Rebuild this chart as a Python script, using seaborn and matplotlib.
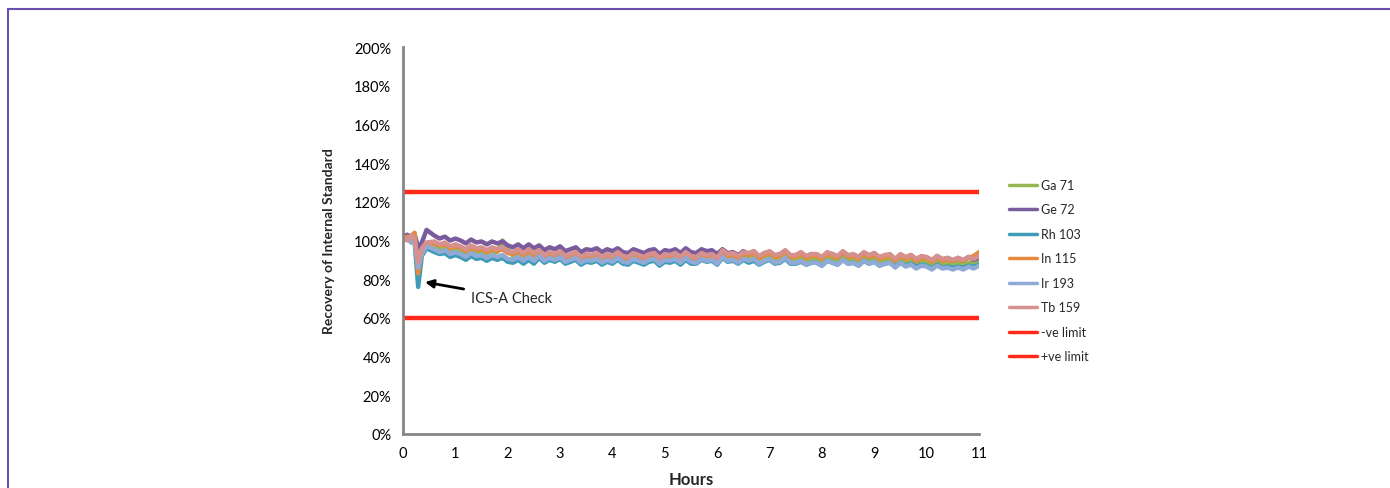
import numpy as np
import pandas as pd
import matplotlib.pyplot as plt
import seaborn as sns
from matplotlib.patches import Rectangle
from matplotlib.ticker import FuncFormatter, MultipleLocator

# sample times (hours): a few early samples, then one every 0.1 h
hours = [0, 0.08, 0.16, 0.22, 0.29, 0.36, 0.45] + list(np.round(np.arange(0.6, 11.01, 0.1), 2))

# recovery of each internal standard (%)
ga71 = [101, 102, 100, 102, 88, 95, 98,
        97.5, 96, 97, 95, 96, 95, 93.5, 95.5, 94, 94.5,
        93, 94.5, 94, 100, 96, 92, 93.5, 91.5, 93.5, 91.5,
        93, 90.5, 92, 91, 92.5, 90, 91, 92, 89.5, 91,
        90.5, 91.5, 89.5, 91, 90, 92, 90, 89.5, 91.5, 90.5,
        89.5, 91, 91.5, 89, 91, 90.5, 91.5, 89.5, 92, 90,
        89.5, 91.5, 90.5, 91, 89, 92.5, 90.5, 91, 89.5, 91.5,
        90.5, 91.5, 89, 90.5, 91.5, 89.5, 90, 92, 89.5, 89.5,
        91, 89, 90, 90, 88.5, 91, 90, 89, 91.5, 89.5,
        90.5, 89, 91.5, 90, 91, 89, 90, 90.5, 88, 90.5,
        89, 90, 88, 89.5, 89, 87.5, 89.5, 88, 88.5, 88,
        88.5, 87.5, 88.5, 88, 89]
ge72 = [102, 103, 101, 103.5, 96, 99, 105.5,
        102.5, 101, 102, 100, 101, 100, 98.5, 100.5, 99, 99.5,
        98, 99.5, 98.5, 99.5, 97.5, 96.5, 98, 96, 98, 96,
        97.5, 95, 96.5, 95.5, 97, 94.5, 95.5, 96.5, 94, 95.5,
        95, 96, 94, 95.5, 94.5, 96, 94, 93.5, 95.5, 94.5,
        93.5, 95, 95.5, 93, 95, 94.5, 95.5, 93.5, 96, 94,
        93.5, 95.5, 94.5, 95, 93, 95.5, 93.5, 94, 92.5, 94.5,
        93, 94.5, 91.5, 93.5, 94, 92, 93, 94.5, 92, 92,
        93.5, 91.5, 93, 92.5, 91, 93.5, 93, 91.5, 94, 92,
        92.5, 91.5, 93.5, 92, 93.5, 91, 92, 92.5, 90, 92.5,
        91, 92.5, 90, 91.5, 91, 89.5, 92, 90, 91, 89.5,
        91, 89.5, 91.5, 90, 91]
rh103 = [100, 101.5, 99, 100, 76, 92, 96,
         94, 93, 93.5, 91.5, 92.5, 91.5, 90, 92, 90.5, 91,
         89.5, 91, 90, 91, 89, 88.5, 90, 88, 90, 88,
         91, 88.5, 90, 89, 90.5, 88, 89, 90, 87.5, 89,
         88.5, 89.5, 87.5, 89, 88, 90, 88, 87.5, 89.5, 88.5,
         87.5, 89, 89.5, 87, 89, 88.5, 89.5, 87.5, 90, 88,
         88, 90, 89, 89.5, 87.5, 91, 89, 89.5, 88, 90,
         88.5, 89.5, 87.5, 89, 90, 88, 88.5, 90.5, 88, 88,
         89, 87.5, 88.5, 88.5, 87, 89.5, 88.5, 87.5, 90, 88,
         88.5, 87, 89.5, 88, 89, 87, 88, 88.5, 86.5, 88.5,
         87, 88, 86.5, 87.5, 87, 85.5, 87.5, 86, 86.5, 86,
         86.5, 86, 87, 86.5, 87.5]
in115 = [101, 102, 100, 104, 83, 95, 98,
         98.5, 97.5, 98, 96, 97, 96.5, 94.5, 96.5, 95, 95.5,
         94, 95.5, 94.5, 95.5, 93.5, 93, 94.5, 92.5, 94.5, 92.5,
         94, 91.5, 93, 92, 93.5, 91, 92, 93, 90.5, 92,
         91.5, 92.5, 90.5, 92, 91, 93, 91, 90.5, 92.5, 91.5,
         90.5, 92, 92.5, 90, 92, 91.5, 92.5, 90.5, 93, 91,
         90.5, 92.5, 91.5, 92, 90, 94, 92, 92.5, 91, 93,
         92.5, 93.5, 91, 92.5, 93.5, 91.5, 92, 94.5, 91.5, 91.5,
         93, 91, 92, 92, 90.5, 93, 92, 91, 94, 91.5,
         92, 90.5, 93, 91.5, 92.5, 90.5, 91.5, 92, 89.5, 92,
         90.5, 91.5, 89.5, 91, 90.5, 89, 91, 89.5, 90, 89.5,
         90.5, 89.5, 91, 92, 94]
ir193 = [100, 101, 99, 101, 86, 93, 97,
         95.5, 94, 95, 93, 94, 93, 91.5, 93.5, 92, 92.5,
         91, 92.5, 91.5, 92.5, 90.5, 90, 91.5, 89.5, 91.5, 89.5,
         92, 89.5, 91, 90, 91.5, 89, 90, 91, 88.5, 90,
         89.5, 90.5, 88.5, 90, 89, 91, 89, 88.5, 90.5, 89.5,
         88.5, 90, 90.5, 88, 90, 89.5, 90.5, 88.5, 91, 89,
         88.5, 90.5, 89.5, 90, 88, 91.5, 89.5, 90, 88.5, 90.5,
         89.5, 90.5, 88, 89.5, 90.5, 88.5, 89, 91, 88.5, 88.5,
         89.5, 87.5, 88.5, 88.5, 87, 89.5, 88.5, 87.5, 90, 88,
         88.5, 87, 89.5, 88, 89, 87, 88, 88.5, 86, 88.5,
         86.5, 87.5, 85.5, 87, 86.5, 85, 87, 85.5, 86, 85,
         86, 85, 86.5, 85.5, 87]
tb159 = [102, 100, 103, 100.5, 89, 96, 99,
         99.5, 98, 99, 97, 98, 97, 95.5, 97.5, 96, 96.5,
         95, 96.5, 95.5, 96.5, 94.5, 94, 95.5, 93.5, 95.5, 93.5,
         95, 92.5, 94, 93, 94.5, 92, 93, 94, 91.5, 93,
         92.5, 93.5, 91.5, 93, 92, 94, 92, 91.5, 93.5, 92.5,
         91.5, 93, 93.5, 91, 93, 92.5, 93.5, 91.5, 94, 92,
         91.5, 93.5, 92.5, 93, 91, 95, 93, 93.5, 92, 94,
         93.5, 94.5, 92, 93.5, 94.5, 92.5, 93, 95, 92.5, 92.5,
         94, 92, 93, 93, 91.5, 94, 93, 92, 94.5, 92.5,
         93, 91.5, 94, 92.5, 93.5, 91.5, 92.5, 93, 90.5, 93,
         91.5, 92.5, 90.5, 92, 91.5, 90, 92, 90.5, 91, 90,
         91, 90, 91.5, 90.5, 92]

lower_limit = 60
upper_limit = 125

series = {
    "Ga 71": ga71,
    "Ge 72": ge72,
    "Rh 103": rh103,
    "In 115": in115,
    "Ir 193": ir193,
    "Tb 159": tb159,
    "-ve limit": [lower_limit] * len(hours),
    "+ve limit": [upper_limit] * len(hours),
}
colors = ["#93B852", "#7A5C9E", "#3E9CB8", "#E68A3E", "#8FAAD6", "#D6908D",
          "#FF2A1A", "#FF2A1A"]

df = pd.concat(
    [pd.DataFrame({"hours": hours, "recovery": vals, "element": name})
     for name, vals in series.items()],
    ignore_index=True,
)

sns.set_style("white")
plt.rcParams["font.family"] = ["Lato", "DejaVu Sans"]

fig = plt.figure(figsize=(13.9, 4.89), dpi=100)
ax = fig.add_axes([403 / 1390, 1 - 435 / 489, 576 / 1390, 387 / 489])

sns.lineplot(data=df, x="hours", y="recovery", hue="element",
             hue_order=list(series.keys()), palette=colors,
             linewidth=3.2, ax=ax, legend=True)

ax.set_xlim(0, 11)
ax.set_ylim(0, 200)
ax.xaxis.set_major_locator(MultipleLocator(1))
ax.yaxis.set_major_locator(MultipleLocator(20))
ax.yaxis.set_major_formatter(FuncFormatter(lambda v, p: f"{v:.0f}%"))

for side in ["top", "right"]:
    ax.spines[side].set_visible(False)
for side in ["left", "bottom"]:
    ax.spines[side].set_color("#868686")
    ax.spines[side].set_linewidth(2)
ax.tick_params(axis="both", direction="out", length=5, width=1.5,
               color="#868686", labelsize=10.5, labelcolor="black")

ax.set_xlabel("Hours", fontsize=12, fontweight="bold", labelpad=8)
ax.set_ylabel("Recovery of Internal Standard", fontsize=10, fontweight="bold", labelpad=14)

ax.annotate("ICS-A Check", xy=(0.42, 78.5), xytext=(1.3, 70.5),
            fontsize=10.5, va="center", ha="left",
            arrowprops=dict(arrowstyle="-|>", color="black", lw=2,
                            shrinkA=3, shrinkB=0, mutation_scale=12))

handles, labels = ax.get_legend_handles_labels()
leg = ax.legend(handles, labels, loc="upper left", bbox_to_anchor=(1.032, 0.688),
                frameon=False, fontsize=9, handlelength=2.3, handletextpad=0.3,
                labelspacing=1.0)
for line in leg.get_lines():
    line.set_linewidth(2.5)

fig.add_artist(Rectangle((8 / 1390, -0.2), 1.2, 1.2 - 10 / 489,
                         transform=fig.transFigure, fill=False,
                         edgecolor="#6A4FB0", linewidth=1.5, clip_on=False))

fig.savefig("out.png", dpi=100)
